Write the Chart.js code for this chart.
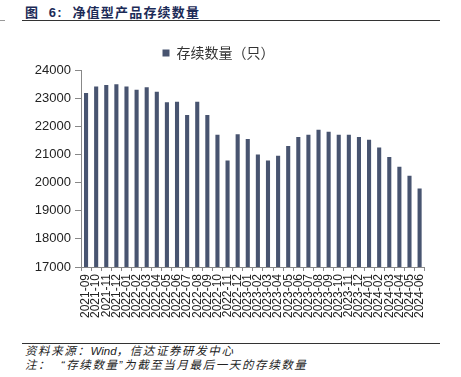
<!DOCTYPE html>
<html>
<head>
<meta charset="utf-8">
<script src="https://cdn.jsdelivr.net/npm/chart.js@4"></script>
<style>
  body { margin: 0; width: 461px; height: 377px; background: #fff; position: relative; overflow: hidden; font-family: "Liberation Sans", "Noto Sans CJK SC", sans-serif; }
  #title { position: absolute; left: 25px; top: 2px; font-size: 13px; font-weight: bold; color: #1c2b57; font-family: "Liberation Sans", "Noto Sans CJK SC", sans-serif; letter-spacing: 1.2px; }
  .rule { position: absolute; height: 1px; background: #333; }
  #chartBox { position: absolute; left: 0; top: 40px; width: 437px; height: 300px; }
  #note { position: absolute; left: 25px; top: 344px; font-size: 11.5px; line-height: 14px; color: #222; font-style: italic; font-family: "Liberation Sans", "Noto Sans CJK SC", sans-serif; letter-spacing: 1.6px; }
</style>
</head>
<body>
<div id="title">图&nbsp; 6:&nbsp; 净值型产品存续数量</div>
<div class="rule" style="left:22px; top:20px; width:418px;"></div>
<div class="rule" style="left:0; top:20px; width:5px; background:#999;"></div>
<div id="chartBox"><canvas id="stockChart"></canvas></div>
<div class="rule" style="left:22px; top:343px; width:418px;"></div>
<div id="note">资料来源：<span style="letter-spacing:0">Wind</span>，信达证券研发中心<br>注：&nbsp; “存续数量”为截至当月最后一天的存续数量</div>
<script>
const months = ['2021-09','2021-10','2021-11','2021-12',
  '2022-01','2022-02','2022-03','2022-04','2022-05','2022-06','2022-07','2022-08','2022-09','2022-10','2022-11','2022-12',
  '2023-01','2023-02','2023-03','2023-04','2023-05','2023-06','2023-07','2023-08','2023-09','2023-10','2023-11','2023-12',
  '2024-01','2024-02','2024-03','2024-04','2024-05','2024-06'];
const counts = [23180, 23410, 23470, 23490,
  23410, 23300, 23390, 23230, 22850, 22870, 22400, 22870, 22400, 21700, 20780, 21720,
  21550, 21000, 20780, 20950, 21300, 21620, 21700, 21880, 21810, 21700, 21700, 21620,
  21520, 21250, 20910, 20560, 20240, 19790];
const seriesName = '存续数量（只）';
const yTicks = [17000, 18000, 19000, 20000, 21000, 22000, 23000, 24000];

const barColor = '#485470';

var ctx = document.getElementById('stockChart').getContext('2d');
var stockChart = new Chart(ctx, {
    type: 'bar',
    data: {
        labels: months,
        datasets: [{
            label: seriesName,
            data: counts,
            backgroundColor: barColor,
            borderWidth: 0,
            categoryPercentage: 0.9,
            barPercentage: 0.45
        }]
    },
    options: {
        responsive: true,
        maintainAspectRatio: false,
        animation: false,
        layout: { padding: { left: 0, right: 0, top: 0, bottom: 0 } },
        plugins: {
            legend: {
                position: 'top',
                labels: {
                    boxWidth: 7,
                    boxHeight: 7,
                    padding: 6,
                    color: '#333',
                    font: { family: '"Noto Sans CJK SC", sans-serif', size: 14 }
                }
            },
            tooltip: { enabled: false }
        },
        scales: {
            x: {
                grid: { display: true, drawOnChartArea: false, tickLength: 4, color: '#888' },
                border: { color: '#888' },
                ticks: {
                    autoSkip: false,
                    maxRotation: 90,
                    minRotation: 90,
                    padding: 3,
                    color: '#222',
                    font: { family: '"Liberation Sans", sans-serif', size: 12 }
                },
                afterFit: function(scale) { scale.height = 73; }
            },
            y: {
                min: 17000,
                max: 24000,
                afterBuildTicks: function(scale) { scale.ticks = yTicks.map(v => ({ value: v })); },
                grid: { display: true, drawOnChartArea: false, tickLength: 6, color: '#888' },
                border: { color: '#888' },
                ticks: {
                    padding: 4,
                    color: '#222',
                    font: { family: '"Liberation Sans", sans-serif', size: 13 },
                    callback: function(value) { return String(value); }
                },
                afterFit: function(scale) { scale.width = 81; }
            }
        }
    }
});
</script>
</body>
</html>
